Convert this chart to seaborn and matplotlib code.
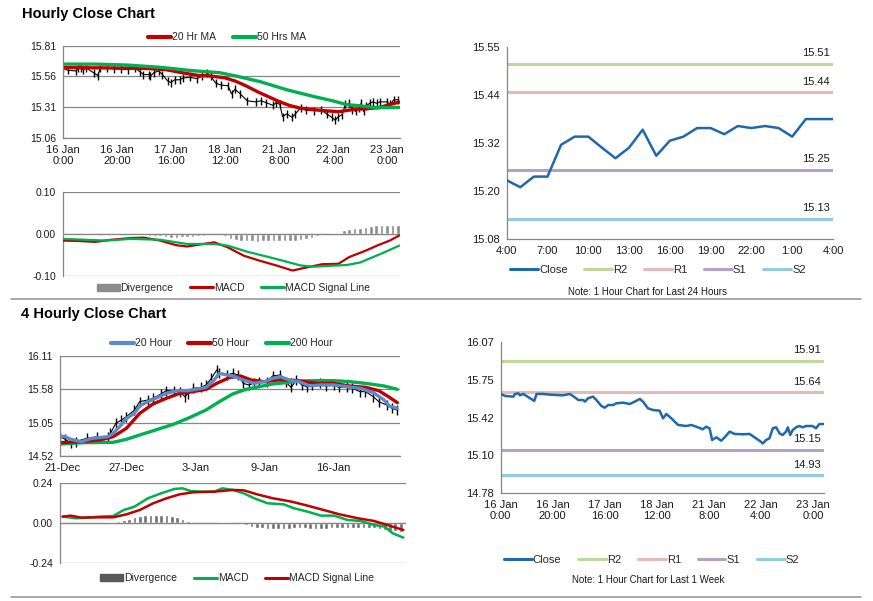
import numpy as np
import pandas as pd
import matplotlib
matplotlib.use('Agg')
import matplotlib.pyplot as plt
import seaborn as sns
from matplotlib.lines import Line2D
from matplotlib.patches import Patch

# ---------------- DATA ----------------
# 1-week hourly close (hours from 16 Jan 0:00)
week_hours = [0, 1.7, 4.9, 5.5, 6.8, 7.4, 8.7, 11.3, 12.9, 13.8, 16.4, 18.9, 21.5, 24, 26.6, 28.5,
              29.8, 31.7, 32.4, 33.6, 35.5, 36.8, 38.7, 40, 41.3, 43.2, 44.5, 47.1, 49.6, 51.5, 53.5,
              54.7, 56.6, 58.6, 61.1, 62.4, 63.7, 65.6, 68.2, 71.4, 73.3, 75.2, 77.7, 79, 80.3, 81.3,
              82.9, 84.8, 86.1, 88, 89.9, 93.1, 95.7, 97.6, 99.5, 100.8, 102, 103.3, 104.6, 105.9,
              107.2, 108.4, 109.7, 110.4, 111.3, 112.3, 113.6, 114.8, 116.1, 117.4, 119.9, 121.2,
              122.5, 124.2]
week_close = [15.627, 15.610, 15.604, 15.627, 15.632, 15.615, 15.627, 15.590, 15.567, 15.627, 15.627,
              15.621, 15.618, 15.615, 15.627, 15.598, 15.575, 15.575, 15.561, 15.590, 15.604, 15.575,
              15.524, 15.509, 15.532, 15.532, 15.547, 15.552, 15.541, 15.561, 15.584, 15.561, 15.504,
              15.489, 15.484, 15.418, 15.455, 15.418, 15.361, 15.352, 15.361, 15.346, 15.324, 15.346,
              15.332, 15.232, 15.255, 15.226, 15.255, 15.304, 15.284, 15.281, 15.284, 15.255, 15.226,
              15.203, 15.232, 15.246, 15.332, 15.341, 15.289, 15.275, 15.304, 15.341, 15.275, 15.318,
              15.341, 15.352, 15.341, 15.352, 15.352, 15.332, 15.369, 15.369]

ma20_hours = [0, 10, 20, 30, 38, 44, 50, 55, 60, 64, 68, 72, 76, 80, 84, 88, 92, 97, 102, 107, 112,
              117, 121, 124.5]
ma20_vals = [15.632, 15.630, 15.628, 15.625, 15.615, 15.59, 15.568, 15.562, 15.548, 15.52, 15.48,
             15.435, 15.395, 15.355, 15.322, 15.30, 15.29, 15.28, 15.272, 15.288, 15.296, 15.305,
             15.33, 15.35]
ma50_hours = [0, 12, 24, 36, 48, 58, 64, 73, 83, 93, 100, 105, 110, 116, 124.5]
ma50_vals = [15.66, 15.66, 15.652, 15.634, 15.606, 15.59, 15.563, 15.517, 15.45, 15.395, 15.36,
             15.33, 15.32, 15.304, 15.307]

macd1_hours = [0, 6, 12, 18, 25, 30, 36, 42, 46, 51, 56, 61, 67, 73, 79, 85, 90, 96, 102, 106, 112,
               117, 121, 124.5]
macd1_vals = [-0.016, -0.017, -0.019, -0.014, -0.010, -0.009, -0.016, -0.027, -0.030, -0.025, -0.020,
              -0.032, -0.052, -0.064, -0.075, -0.087, -0.080, -0.072, -0.071, -0.055, -0.040, -0.026,
              -0.016, -0.004]
sig1_hours = [0, 8, 16, 25, 36, 46, 56, 61, 68, 78, 88, 93, 98, 105, 110, 117.5, 124.5]
sig1_vals = [-0.012, -0.014, -0.016, -0.012, -0.014, -0.024, -0.024, -0.028, -0.042, -0.058, -0.075,
             -0.078, -0.076, -0.074, -0.068, -0.048, -0.028]
div1_hours = list(range(0, 125, 2))
div1_vals = [-0.003, -0.003, -0.002, -0.002, -0.003, -0.002, -0.002, -0.001, -0.002, -0.002, -0.002,
             -0.001, -0.001, -0.002, -0.002, -0.003, -0.004, -0.005, -0.006,
             -0.008, -0.009, -0.009, -0.008, -0.008, -0.007, -0.006, -0.004,
             -0.002, -0.001, -0.002, -0.006,
             -0.012, -0.015, -0.017, -0.018, -0.018, -0.019, -0.018, -0.018, -0.017, -0.018, -0.018,
             -0.017, -0.016, -0.015,
             -0.012, -0.009, -0.006, -0.003, -0.001, 0.001, 0.002,
             0.008, 0.012, 0.013, 0.014, 0.017, 0.019, 0.020, 0.021, 0.021, 0.020, 0.020]

# 24-hour close (hours from 4:00)
day_hours = list(range(25))
day_close = [15.224, 15.207, 15.233, 15.233, 15.311, 15.331, 15.331, 15.304, 15.278, 15.304, 15.348,
             15.284, 15.321, 15.331, 15.352, 15.352, 15.337, 15.357, 15.352, 15.357, 15.352, 15.331,
             15.374, 15.374, 15.374]
day_levels = {'R2': 15.51, 'R1': 15.44, 'S1': 15.25, 'S2': 15.13}
week_levels = {'R2': 15.91, 'R1': 15.64, 'S1': 15.15, 'S2': 14.93}
day_ytick_labels = ['15.08', '15.20', '15.32', '15.44', '15.55']
week_ytick_labels = ['14.78', '15.10', '15.42', '15.75', '16.07']
day_xtick_labels = ['4:00', '7:00', '10:00', '13:00', '16:00', '19:00', '22:00', '1:00', '4:00']
week_xtick_labels = ['16 Jan\n0:00', '16 Jan\n20:00', '17 Jan\n16:00', '18 Jan\n12:00',
                     '21 Jan\n8:00', '22 Jan\n4:00', '23 Jan\n0:00']

# 4-hourly (bar index from 21 Dec)
h4_close_bars = [0, 2, 4, 6, 10, 14, 18, 19, 21, 23, 25, 28, 30, 33, 35, 38, 40, 43, 45, 47, 48, 50,
                 53, 55, 57, 59, 60, 63, 65, 67, 69, 71, 73, 75, 78, 80, 83, 85, 87, 89, 91, 93, 95,
                 98, 100, 103, 105, 108, 110, 113, 115, 118, 120, 123, 125, 127]
h4_close = [14.827, 14.785, 14.72, 14.75, 14.80, 14.827, 14.827, 14.88, 15.04, 15.09, 15.145, 15.25,
            15.384, 15.41, 15.437, 15.506, 15.559, 15.559, 15.543, 15.463, 15.506, 15.596, 15.61,
            15.65, 15.755, 15.887, 15.834, 15.81, 15.834, 15.81, 15.675, 15.65, 15.675, 15.702,
            15.702, 15.792, 15.81, 15.70, 15.61, 15.728, 15.65, 15.62, 15.65, 15.675, 15.633,
            15.65, 15.61, 15.61, 15.596, 15.543, 15.543, 15.463, 15.384, 15.33, 15.278, 15.25]
h4_ma20_bars = [0, 2, 4, 8, 12, 18, 20, 23, 25, 28, 30, 33, 36, 40, 44, 48, 51, 55, 58, 60, 63, 65,
                69, 73, 77, 80, 83, 87, 90, 94, 98, 103, 108, 113, 118, 122, 124, 127]
h4_ma20 = [14.838, 14.827, 14.785, 14.748, 14.80, 14.827, 14.88, 15.013, 15.119, 15.198, 15.315,
           15.384, 15.437, 15.516, 15.559, 15.559, 15.58, 15.612, 15.728, 15.834, 15.808, 15.792,
           15.728, 15.675, 15.702, 15.755, 15.781, 15.718, 15.702, 15.633, 15.649, 15.649, 15.622,
           15.596, 15.527, 15.41, 15.315, 15.278]
h4_ma50_bars = [0, 8, 15, 20, 25, 30, 35, 40, 45, 50, 55, 59, 64, 68, 72, 77, 82, 87, 92, 97, 103,
                109, 115, 120, 124, 127]
h4_ma50 = [14.732, 14.748, 14.774, 14.827, 14.96, 15.198, 15.347, 15.437, 15.516, 15.543, 15.58,
           15.675, 15.771, 15.792, 15.728, 15.702, 15.728, 15.728, 15.702, 15.675, 15.675, 15.633,
           15.612, 15.559, 15.453, 15.368]
h4_ma200_bars = [0, 9, 20, 25, 30, 36, 43, 49, 55, 60, 65, 70, 75, 80, 85, 90, 97, 103, 109, 115,
                 122, 127]
h4_ma200 = [14.711, 14.732, 14.737, 14.785, 14.854, 14.934, 15.029, 15.135, 15.252, 15.384, 15.506,
            15.58, 15.622, 15.665, 15.686, 15.713, 15.718, 15.718, 15.702, 15.675, 15.633, 15.58]
h4_xtick_bars = [1, 25, 51, 77, 103]
h4_xtick_labels = ['21-Dec', '27-Dec', '3-Jan', '9-Jan', '16-Jan']

macd4_bars = [1, 6, 15, 20, 24, 28, 33, 38, 43, 46, 49, 53, 58, 61, 65, 69, 73, 78, 84, 88, 93, 98,
              103, 108, 113, 118, 122, 125, 129]
macd4_vals = [0.04, 0.03, 0.04, 0.044, 0.08, 0.10, 0.15, 0.18, 0.206, 0.21, 0.194, 0.19, 0.19, 0.21,
              0.20, 0.18, 0.15, 0.12, 0.114, 0.09, 0.07, 0.046, 0.046, 0.02, 0.014, -0.01, -0.02,
              -0.06, -0.086]
sig4_bars = [1, 4, 8, 15, 20, 25, 30, 35, 40, 45, 50, 58, 65, 69, 74, 80, 87, 93, 99, 105, 112, 118,
             123, 129]
sig4_vals = [0.04, 0.046, 0.034, 0.036, 0.036, 0.054, 0.08, 0.12, 0.15, 0.174, 0.186, 0.19, 0.20,
             0.198, 0.174, 0.15, 0.13, 0.106, 0.08, 0.054, 0.03, 0.014, -0.01, -0.04]
div4_bars = list(range(0, 129, 2))
div4_vals = [0.003, 0.004, 0.004, 0.003, 0.003, 0.003, 0.004, 0.004, 0.004, 0.005, 0.006,
             0.015, 0.022, 0.028, 0.035,
             0.045, 0.050, 0.052, 0.052, 0.050, 0.048, 0.045,
             0.038, 0.028, 0.012,
             0.004, 0.002, 0.002, 0.002, 0.003, 0.005, 0.008, 0.006, 0.004,
             -0.002, -0.010, -0.020,
             -0.028, -0.030, -0.032, -0.033, -0.033, -0.034, -0.033, -0.030, -0.028, -0.030, -0.032,
             -0.034, -0.033, -0.032, -0.030, -0.028, -0.027, -0.028, -0.030, -0.031, -0.030, -0.028,
             -0.030, -0.035, -0.040, -0.045, -0.048, -0.050]

# ---------------- STYLE ----------------
sns.set_theme(style='white')
plt.rcParams['font.family'] = ['Liberation Sans', 'DejaVu Sans']

GRAY = '#868686'
TXT = '#1a1a1a'
RED = '#C00000'
GREEN = '#00B050'
BLUE20 = '#5B8BC8'
CLOSE = '#1F68AD'
LEVEL_COLORS = {'R2': '#C3D69B', 'R1': '#E6B9B8', 'S1': '#B3A2C7', 'S2': '#93CDDD'}

W, H = 873, 601
fig = plt.figure(figsize=(W / 100, H / 100), dpi=100)
fig.patch.set_facecolor('white')


def add_ax(x0, y0, x1, y1):
    return fig.add_axes([x0 / W, 1 - y1 / H, (x1 - x0) / W, (y1 - y0) / H])


def style(ax, ysize=7.5, xsize=8):
    for s in ['top', 'right']:
        ax.spines[s].set_visible(False)
    for s in ['left', 'bottom']:
        ax.spines[s].set_color(GRAY)
        ax.spines[s].set_linewidth(0.9)
    ax.tick_params(axis='both', colors=GRAY, length=3, width=0.8, direction='out', pad=2)
    ax.tick_params(axis='y', labelsize=ysize, labelcolor=TXT)
    ax.tick_params(axis='x', labelsize=xsize, labelcolor=TXT)
    ax.set_xlabel('')
    ax.set_ylabel('')
    ax.set_facecolor('white')


def legend(ax, handles, labels, cx, cy, fs=7.5, hl=2.2, cs=1.6):
    ax.legend(handles, labels, loc='center', bbox_to_anchor=(cx / W, 1 - cy / H),
              bbox_transform=fig.transFigure, ncol=len(handles), frameon=False, fontsize=fs,
              handlelength=hl, handletextpad=0.1, columnspacing=cs, borderaxespad=0)


def bars_trace(ax, x, y, size):
    sns.lineplot(x=x, y=y, ax=ax, color='black', lw=0.8, marker='|', markersize=size,
                 markeredgewidth=1.0, markeredgecolor='black', markerfacecolor='black',
                 legend=False, zorder=1)


# ---------- Top-left price ----------
ax1 = add_ax(63, 45.7, 400, 137.7)
bars_trace(ax1, week_hours, week_close, 6)
sns.lineplot(x=ma20_hours, y=ma20_vals, ax=ax1, color=RED, lw=2.4, legend=False, zorder=2)
sns.lineplot(x=ma50_hours, y=ma50_vals, ax=ax1, color=GREEN, lw=2.4, legend=False, zorder=2)
ax1.set_xlim(0, 124.8)
ax1.set_ylim(15.06, 15.81)
ax1.set_yticks([15.06, 15.31, 15.56, 15.81])
ax1.set_yticklabels(['15.06', '15.31', '15.56', '15.81'])
ax1.set_xticks(list(range(0, 121, 20)))
ax1.set_xticklabels(week_xtick_labels)
ax1.yaxis.grid(True, color=GRAY, lw=0.9)
ax1.set_axisbelow(True)
style(ax1)
legend(ax1, [Line2D([], [], color=RED, lw=3), Line2D([], [], color=GREEN, lw=3)],
       ['20 Hr MA', '50 Hrs MA'], 227, 37.5)

# ---------- Top-left MACD ----------
ax2 = add_ax(63, 191.7, 400, 276)
ax2.bar(div1_hours, div1_vals, width=1.3, color='#8C8C8C', zorder=1)
ax2.axhline(0, color=GRAY, lw=0.9, zorder=2)
sns.lineplot(x=macd1_hours, y=macd1_vals, ax=ax2, color=RED, lw=1.6, legend=False, zorder=3)
sns.lineplot(x=sig1_hours, y=sig1_vals, ax=ax2, color=GREEN, lw=1.6, legend=False, zorder=3)
ax2.set_xlim(0, 124.8)
ax2.set_ylim(-0.10, 0.10)
ax2.set_yticks([-0.10, 0.0, 0.10])
ax2.set_yticklabels(['-0.10', '0.00', '0.10'])
ax2.set_xticks([])
ax2.yaxis.grid(True, color=GRAY, lw=0.9)
style(ax2)
ax2.spines['bottom'].set_visible(False)
legend(ax2, [Patch(color='#8C8C8C'), Line2D([], [], color=RED, lw=2.2), Line2D([], [], color=GREEN, lw=2.2)],
       ['Divergence', 'MACD', 'MACD Signal Line'], 233.5, 288)


# ---------- right panels ----------
def level_panel(box, hours, close, levels, ylim, ytl, xt, xtl, xlim, leg_c, note, note_c):
    ax = add_ax(*box)
    for name, val in levels.items():
        ax.axhline(val, color=LEVEL_COLORS[name], lw=2.2, zorder=1)
        ax.annotate(f'{val:.2f}', xy=(0.99, val), xycoords=('axes fraction', 'data'),
                    xytext=(0, 4), textcoords='offset points', ha='right', va='bottom',
                    fontsize=8, color=TXT)
    sns.lineplot(x=hours, y=close, ax=ax, color=CLOSE, lw=1.8, legend=False, zorder=3)
    ax.set_xlim(*xlim)
    ax.set_ylim(*ylim)
    ax.set_yticks(np.linspace(ylim[0], ylim[1], len(ytl)))
    ax.set_yticklabels(ytl)
    ax.set_xticks(xt)
    ax.set_xticklabels(xtl)
    style(ax, ysize=8, xsize=8)
    handles = [Line2D([], [], color=CLOSE, lw=2.2)] + \
              [Line2D([], [], color=LEVEL_COLORS[k], lw=2.2) for k in ['R2', 'R1', 'S1', 'S2']]
    legend(ax, handles, ['Close', 'R2', 'R1', 'S1', 'S2'], leg_c[0], leg_c[1], fs=8, hl=2.5, cs=1.5)
    fig.text(note_c[0] / W, 1 - note_c[1] / H, note, ha='center', va='center', fontsize=7, color=TXT)
    return ax


level_panel((506.7, 47.3, 833, 239), day_hours, day_close, day_levels, (15.08, 15.55),
            day_ytick_labels, list(range(0, 25, 3)), day_xtick_labels, (0, 24), (658, 270),
            'Note: 1 Hour Chart for Last 24 Hours', (648, 292))
level_panel((500.7, 342.3, 824, 492.7), week_hours, week_close, week_levels, (14.78, 16.07),
            week_ytick_labels, list(range(0, 121, 20)), week_xtick_labels, (0, 124.3), (651.5, 560),
            'Note: 1 Hour Chart for Last 1 Week', (648, 580))

# ---------- Bottom-left price ----------
ax4 = add_ax(60, 356, 400, 456)
bars_trace(ax4, h4_close_bars, h4_close, 7)
sns.lineplot(x=h4_ma200_bars, y=h4_ma200, ax=ax4, color=GREEN, lw=2.4, legend=False, zorder=2)
sns.lineplot(x=h4_ma50_bars, y=h4_ma50, ax=ax4, color=RED, lw=2.4, legend=False, zorder=2)
sns.lineplot(x=h4_ma20_bars, y=h4_ma20, ax=ax4, color=BLUE20, lw=2.4, legend=False, zorder=2)
ax4.set_xlim(0, 128)
ax4.set_ylim(14.52, 16.11)
ax4.set_yticks([14.52, 15.05, 15.58, 16.11])
ax4.set_yticklabels(['14.52', '15.05', '15.58', '16.11'])
ax4.set_xticks(h4_xtick_bars)
ax4.set_xticklabels(h4_xtick_labels)
ax4.yaxis.grid(True, color=GRAY, lw=0.9)
ax4.set_axisbelow(True)
style(ax4)
legend(ax4, [Line2D([], [], color=BLUE20, lw=3), Line2D([], [], color=RED, lw=3),
             Line2D([], [], color=GREEN, lw=3)],
       ['20 Hour', '50 Hour', '200 Hour'], 221.5, 343.3)

# ---------- Bottom-left MACD ----------
ax5 = add_ax(60, 483.3, 406, 563.3)
ax5.bar(div4_bars, div4_vals, width=1.4, color='#707070', zorder=1)
ax5.axhline(0, color=GRAY, lw=0.9, zorder=2)
sns.lineplot(x=macd4_bars, y=macd4_vals, ax=ax5, color=GREEN, lw=1.8, legend=False, zorder=3)
sns.lineplot(x=sig4_bars, y=sig4_vals, ax=ax5, color=RED, lw=1.8, legend=False, zorder=3)
ax5.set_xlim(0, 130)
ax5.set_ylim(-0.24, 0.24)
ax5.set_yticks([-0.24, 0.0, 0.24])
ax5.set_yticklabels(['-0.24', '0.00', '0.24'])
ax5.set_xticks([])
ax5.yaxis.grid(True, color=GRAY, lw=0.9)
style(ax5)
ax5.spines['bottom'].set_visible(False)
legend(ax5, [Patch(color='#595959'), Line2D([], [], color=GREEN, lw=2.2), Line2D([], [], color=RED, lw=2.2)],
       ['Divergence', 'MACD', 'MACD Signal Line'], 237, 578.3)

# ---------- titles & separators ----------
fig.text(21.7 / W, 1 - 18.3 / H, 'Hourly Close Chart', fontsize=10.5, fontweight='bold',
         va='baseline', ha='left', color='black')
fig.text(21 / W, 1 - 318 / H, '4 Hourly Close Chart', fontsize=10.5, fontweight='bold',
         va='baseline', ha='left', color='black')
for yy in (299, 597):
    fig.add_artist(Line2D([11 / W, 861 / W], [1 - yy / H, 1 - yy / H], color='#9A9A9A', lw=1.2))

fig.savefig('out.png', dpi=100, facecolor='white')
